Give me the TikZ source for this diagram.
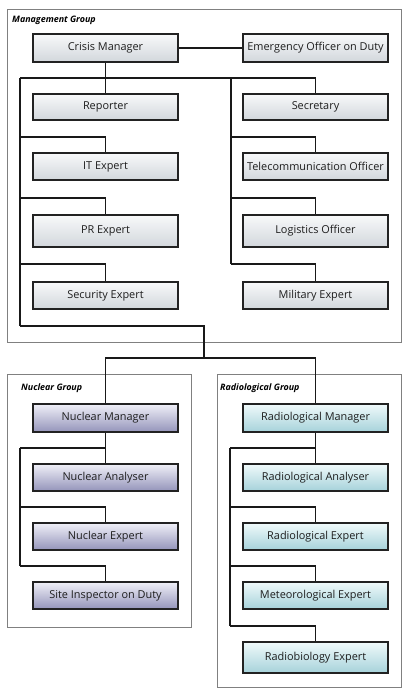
\documentclass[tikz,border=0pt]{standalone}
\usepackage{fontspec}
\setmainfont{Open Sans}
\usetikzlibrary{shadows}
\definecolor{mtop}{HTML}{F8F9FA}
\definecolor{mbot}{HTML}{D2D7DC}
\definecolor{ntop}{HTML}{F0F0F8}
\definecolor{nbot}{HTML}{9494BA}
\definecolor{rtop}{HTML}{F0FAFB}
\definecolor{rbot}{HTML}{A6D2DA}
\definecolor{edge}{HTML}{222222}
\definecolor{frame}{HTML}{808080}
\definecolor{txt}{HTML}{1E1E1E}
\tikzset{
  box/.style={draw=edge, line width=1.4pt, minimum width=145pt, minimum height=27pt,
    inner sep=0pt, font=\fontsize{10.9}{12}\selectfont, text=txt,
    drop shadow={shadow xshift=1pt, shadow yshift=-1pt, opacity=0.25}},
  mbox/.style={box, top color=mtop, bottom color=mbot},
  nbox/.style={box, top color=ntop, bottom color=nbot},
  rbox/.style={box, top color=rtop, bottom color=rbot},
  grp/.style={draw=frame, line width=0.9pt},
  grplabel/.style={anchor=west, inner sep=0pt, font=\fontsize{8.9}{10}\selectfont\bfseries\itshape, text=black},
  conn/.style={draw=black!90, line width=1.3pt},
}
\begin{document}
\begin{tikzpicture}[x=1pt,y=-1pt]
\useasboundingbox (0,0) rectangle (416,700);
% group frames
\draw[grp] (7,9) rectangle (401,342);
\draw[grp] (7,374) rectangle (191,627);
\draw[grp] (217,374) rectangle (401,687);
\node[grplabel] (lblM) at (12,20) {Management Group};
\node[grplabel] (lblN) at (21,388.5) {Nuclear Group};
\node[grplabel] (lblR) at (220,388.5) {Radiological Group};
% management nodes
\node[mbox, minimum height=28pt] (crisis) at (105.5,48) {Crisis Manager};
\node[mbox, minimum height=28pt] (emerg) at (315.5,48) {Emergency Officer on Duty};
\node[mbox, minimum height=26pt] (reporter) at (105.5,107) {Reporter};
\node[mbox, minimum height=26pt] (secretary) at (315.5,107) {Secretary};
\node[mbox] (it) at (105.5,166.5) {IT Expert};
\node[mbox] (telecom) at (315.5,166.5) {Telecommunication Officer};
\node[mbox, minimum height=32pt] (pr) at (105.5,231) {PR Expert};
\node[mbox, minimum height=32pt] (logistics) at (315.5,231) {Logistics Officer};
\node[mbox] (security) at (105.5,295.5) {Security Expert};
\node[mbox] (military) at (315.5,295.5) {Military Expert};
% nuclear nodes
\node[nbox, minimum height=28pt] (nman) at (105.5,418) {Nuclear Manager};
\node[nbox] (nana) at (105.5,477.5) {Nuclear Analyser};
\node[nbox] (nexp) at (105.5,536.5) {Nuclear Expert};
\node[nbox] (site) at (105.5,595.5) {Site Inspector on Duty};
% radiological nodes
\node[rbox, minimum height=28pt] (rman) at (315.5,418) {Radiological Manager};
\node[rbox] (rana) at (315.5,477.5) {Radiological Analyser};
\node[rbox] (rexp) at (315.5,536.5) {Radiological Expert};
\node[rbox] (meteo) at (315.5,595.5) {Meteorological Expert};
\node[rbox, minimum height=31pt] (rbio) at (315.5,657.5) {Radiobiology Expert};
% coordinates
\coordinate (mL) at (20,78);
\coordinate (mR) at (231,78);
\coordinate (bL1) at (20,137);
\coordinate (bL2) at (20,198);
\coordinate (bL3) at (20,264);
\coordinate (cL) at (20,326);
\coordinate (bR1) at (231,137);
\coordinate (bR2) at (231,198);
\coordinate (bR3) at (231,264);
\coordinate (jn) at (204,358);
\coordinate (n1) at (20,448);
\coordinate (n2) at (20,507);
\coordinate (n3) at (20,566);
\coordinate (r1) at (230,448);
\coordinate (r2) at (230,507);
\coordinate (r3) at (230,566);
\coordinate (r4) at (230,626);
% management connectors
\draw[conn] (crisis.east) -- (emerg.west);
\draw[conn] (crisis.south) -- (reporter.north);
\draw[conn] (mL) -| (secretary.north);
\draw[conn] (mL) -- (cL);
\draw[conn] (mR) -- (bR3);
\draw[conn] (bL1) -| (it.north);
\draw[conn] (bL2) -| (pr.north);
\draw[conn] (bL3) -| (security.north);
\draw[conn] (bR1) -| (telecom.north);
\draw[conn] (bR2) -| (logistics.north);
\draw[conn] (bR3) -| (military.north);
% link to groups
\draw[conn] (cL) -| (jn);
\draw[conn] (nman.north) |- (jn) -| (rman.north);
% nuclear connectors
\draw[conn] (nman.south) -- (nana.north);
\draw[conn] (n1) -- (n3);
\draw[conn] (n1) -| (nana.north);
\draw[conn] (n2) -| (nexp.north);
\draw[conn] (n3) -| (site.north);
% radiological connectors
\draw[conn] (rman.south) -- (rana.north);
\draw[conn] (r1) -- (r4);
\draw[conn] (r1) -| (rana.north);
\draw[conn] (r2) -| (rexp.north);
\draw[conn] (r3) -| (meteo.north);
\draw[conn] (r4) -| (rbio.north);
\end{tikzpicture}
\end{document}
